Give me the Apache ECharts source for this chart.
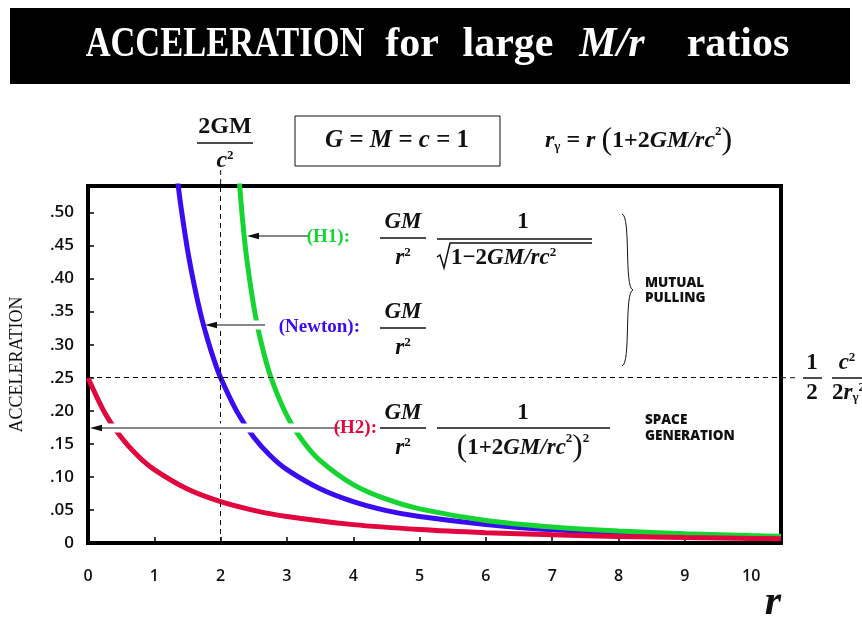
<!DOCTYPE html>
<html><head><meta charset="utf-8">
<script src="https://cdn.jsdelivr.net/npm/echarts@6/dist/echarts.min.js"></script>
<style>html,body{margin:0;padding:0;background:#fff}#c{width:862px;height:624px}</style>
</head><body><div id="c"></div>
<script>
// ---- data (G = M = c = 1) ----
const rNewton = [1.3,1.36,1.4,1.5,1.6,1.7,1.8,1.9,2,2.25,2.5,2.75,3,3.5,4,4.5,5,6,7,8,9,10,10.45];
const accNewton = [0.592,0.541,0.510,0.444,0.391,0.346,0.309,0.277,0.250,0.198,0.160,0.132,0.111,0.082,0.0625,0.049,0.040,0.028,0.020,0.0156,0.0123,0.0100,0.0092];
const rH1 = [2.25,2.3,2.35,2.4,2.5,2.6,2.75,3,3.25,3.5,4,4.5,5,6,7,8,9,10,10.45];
const accH1 = [0.593,0.524,0.469,0.425,0.358,0.308,0.253,0.1925,0.1527,0.1247,0.0884,0.0663,0.0516,0.034,0.0241,0.018,0.014,0.0112,0.0102];
const rH2 = [0,0.25,0.5,0.75,1,1.5,2,2.5,3,4,5,6,7,8,9,10,10.45];
const accH2 = [0.25,0.1975,0.16,0.132,0.111,0.0816,0.0625,0.0494,0.04,0.0278,0.0204,0.0156,0.0123,0.01,0.0083,0.0069,0.0065];
const xTicks = [0,1,2,3,4,5,6,7,8,9,10];
const yTicks = [0,0.05,0.10,0.15,0.20,0.25,0.30,0.35,0.40,0.45,0.50];
const horizonR = 2;      // 2GM/c^2
const levelAcc = 0.25;   // 1/2 c^2/(2 r_gamma^2)

const SERIF = "'Liberation Serif','DejaVu Serif',serif";
const SANS = "'Open Sans','Lato',sans-serif";
const C_BLUE = '#3a0cf2', C_GREEN = '#16d432', C_RED = '#e2063f';

const pairs = (xs, ys) => xs.map((x, i) => [x, ys[i]]);

const chart = echarts.init(document.getElementById('c'), null, {renderer: 'canvas'});

function lineSeries(name, data, color, extra) {
  return Object.assign({
    name, type: 'line', data, smooth: 0.3, showSymbol: false,
    clip: true, lineStyle: {color, width: 5}, itemStyle: {color}, z: 3
  }, extra || {});
}

chart.setOption({
  animation: false,
  grid: {left: 85, top: 186, width: 696, height: 357, show: true, borderColor: '#000', borderWidth: 4, backgroundColor: 'transparent'},
  xAxis: {
    type: 'value', min: 0, max: 10.45, interval: 1,
    axisLine: {show: false}, splitLine: {show: false},
    axisTick: {show: true, inside: true, length: 6, lineStyle: {color: '#000', width: 1.5}},
    axisLabel: {showMaxLabel: false, margin: 25, color: '#111', fontFamily: SANS, fontWeight: 600, fontSize: 16,
      formatter: v => xTicks.includes(v) ? String(v) : ''}
  },
  yAxis: {
    type: 'value', min: 0, max: 0.54, interval: 0.05,
    name: 'ACCELERATION', nameLocation: 'middle', nameGap: 62, nameRotate: 90,
    nameTextStyle: {fontFamily: SERIF, fontSize: 18, color: '#111'},
    axisLine: {show: false}, splitLine: {show: false},
    axisTick: {show: true, inside: true, length: 6, lineStyle: {color: '#000', width: 1.5}},
    axisLabel: {showMaxLabel: false, margin: 14, color: '#111', fontFamily: SANS, fontWeight: 600, fontSize: 17,
      formatter: v => {
        const t = yTicks.find(k => Math.abs(k - v) < 1e-6);
        if (t === undefined) return '';
        return t === 0 ? '0' : t.toFixed(2).replace(/^0/, '');
      }}
  },
  series: [
    lineSeries('Newton', pairs(rNewton, accNewton), C_BLUE, {
      markLine: {silent: true, symbol: 'none', label: {show: false},
        lineStyle: {color: '#000', type: [5, 4], width: 1},
        data: [{xAxis: horizonR}, {yAxis: levelAcc}]}
    }),
    lineSeries('H1', pairs(rH1, accH1), C_GREEN),
    lineSeries('H2', pairs(rH2, accH2), C_RED)
  ]
});

// ---------- annotations ----------
const g = [];
function txt(x, y, text, o) {
  o = o || {};
  g.push({type: 'text', x, y, z: o.z || 10, rotation: o.rotation || 0, scaleX: o.scaleX || 1,
    style: {text, fill: o.color || '#111', fontFamily: o.family || SERIF, fontSize: o.size || 22,
      fontWeight: o.weight || 'bold', fontStyle: o.style || 'normal',
      align: o.align || 'center', verticalAlign: o.valign || 'middle',
      textAlign: o.align || 'center', textVerticalAlign: o.valign || 'middle',
      rich: o.rich, backgroundColor: o.bg, padding: o.pad}});
}
function hline(x1, x2, y, w, color, dash) {
  g.push({type: 'line', z: 10, shape: {x1, y1: y, x2, y2: y}, style: {stroke: color || '#111', lineWidth: w || 1.5, lineDash: dash}});
}
function vline(x, y1, y2, w, dash) {
  g.push({type: 'line', z: 10, shape: {x1: x, y1, x2: x, y2}, style: {stroke: '#111', lineWidth: w || 1, lineDash: dash}});
}
function arrow(xFrom, xTo, y) {
  g.push({type: 'line', z: 8, shape: {x1: xFrom, y1: y, x2: xTo + 2, y2: y}, style: {stroke: '#fff', lineWidth: 9}});
  g.push({type: 'line', z: 9, shape: {x1: xFrom, y1: y, x2: xTo + 8, y2: y}, style: {stroke: '#111', lineWidth: 1.2}});
  g.push({type: 'polygon', z: 9, shape: {points: [[xTo, y], [xTo + 12, y - 3.2], [xTo + 12, y + 3.2]]}, style: {fill: '#111'}});
}
function curve(x1, y1, cpx1, cpy1, cpx2, cpy2, x2, y2) {
  g.push({type: 'bezierCurve', z: 10, shape: {x1, y1, x2, y2, cpx1, cpy1, cpx2, cpy2}, style: {stroke: '#111', lineWidth: 1, fill: null}});
}
const rich = (size) => ({
  i: {fontFamily: SERIF, fontSize: size, fontWeight: 'bold', fontStyle: 'italic', fill: '#111'},
  n: {fontFamily: SERIF, fontSize: size, fontWeight: 'bold', fill: '#111'},
  sup: {fontFamily: SERIF, fontSize: Math.round(size * 0.55), fontWeight: 'bold', fill: '#111', verticalAlign: 'top', padding: [0, 0, Math.round(size * 0.45), 0]},
  sub: {fontFamily: SERIF, fontSize: Math.round(size * 0.55), fontWeight: 'bold', fill: '#111', padding: [Math.round(size * 0.45), 0, 0, 0]},
  p: {fontFamily: SERIF, fontSize: Math.round(size * 1.35), fontWeight: 'normal', fill: '#111'}
});

// title bar
g.push({type: 'rect', z: 1, shape: {x: 10, y: 8, width: 840, height: 76}, style: {fill: '#000'}});
const tOpt = {color: '#fff', size: 42, weight: 'bold'};
txt(225, 45, 'ACCELERATION', Object.assign({}, tOpt, {scaleX: 0.82}));
txt(412, 45, 'for', tOpt);
txt(508, 45, 'large', tOpt);
txt(612, 45, 'M/r', Object.assign({}, tOpt, {style: 'italic'}));
txt(738, 45, 'ratios', tOpt);

// 2GM/c^2 above the dashed vertical
txt(225, 127, '2GM', {size: 24});
hline(197, 253, 143, 1.5);
txt(225, 161, '{i|c}{sup|2}', {rich: rich(24)});

// G = M = c = 1 box
g.push({type: 'rect', z: 10, shape: {x: 295, y: 116, width: 205, height: 50}, style: {fill: 'none', stroke: '#111', lineWidth: 1}});
txt(397, 141, '{i|G = M = c = }{n|1}', {rich: rich(25)});

// r_gamma formula
txt(545, 141, '{i|r}{sub|γ}{n| = }{i|r }{p|(}{n|1+2}{i|GM/rc}{sup|2}{p|)}', {rich: rich(24), align: 'left'});

// H1
arrow(310, 247, 236);
txt(350, 237, '(H1):', {color: C_GREEN, size: 19, align: 'right'});
txt(403, 222, 'GM', {size: 23, style: 'italic'});
hline(380, 426, 238, 1.5);
txt(403, 258, '{i|r}{sup|2}', {rich: rich(23)});
txt(523, 222, '1', {size: 23});
hline(437, 592, 239, 1.5);
txt(451, 258, '{n|1−2}{i|GM/rc}{sup|2}', {rich: rich(23), align: 'left'});
g.push({type: 'polyline', z: 10, shape: {points: [[437, 257], [440, 255], [444, 268], [450, 243], [592, 243]]}, style: {stroke: '#111', lineWidth: 1.5, fill: null}});

// Newton
arrow(265, 205, 325);
txt(362, 327, '(Newton):', {color: C_BLUE, size: 19, align: 'right', bg: '#fff', pad: [2, 2]});
txt(403, 312, 'GM', {size: 23, style: 'italic'});
hline(380, 426, 328, 1.5);
txt(403, 348, '{i|r}{sup|2}', {rich: rich(23)});

// H2
arrow(340, 90, 428);
txt(377, 428, '(H2):', {color: C_RED, size: 19, align: 'right'});
txt(403, 413, 'GM', {size: 23, style: 'italic'});
hline(380, 426, 428, 1.5);
txt(403, 448, '{i|r}{sup|2}', {rich: rich(23)});
txt(523, 413, '1', {size: 23});
hline(437, 610, 428, 1.5);
txt(523, 448, '{p|(}{n|1+2}{i|GM/rc}{sup|2}{p|)}{sup|2}', {rich: rich(23)});

// brace + side labels
curve(622, 214, 631, 216, 624, 288, 633, 290);
curve(633, 290, 624, 292, 631, 364, 622, 366);
txt(645, 283, 'MUTUAL', {family: SANS, size: 13.5, weight: 800, align: 'left'});
txt(645, 298, 'PULLING', {family: SANS, size: 13.5, weight: 800, align: 'left'});
txt(645, 420, 'SPACE', {family: SANS, size: 13.5, weight: 800, align: 'left'});
txt(645, 436, 'GENERATION', {family: SANS, size: 13.5, weight: 800, align: 'left'});

// right side 1/2 c^2/(2 r_gamma^2)
txt(812, 363, '1', {size: 23});
hline(803, 822, 378, 1.5);
txt(812, 393, '2', {size: 23});
txt(847, 363, '{i|c}{sup|2}', {rich: rich(23)});
hline(832, 866, 378, 1.5);
txt(832, 393, '{n|2}{i|r}{sub|γ}{sup|2}', {rich: rich(23), align: 'left'});

// axis variable
txt(773, 603, 'r', {size: 42, style: 'italic'});

// extensions of the dashed reference lines beyond the plot frame
const pV = chart.convertToPixel({gridIndex: 0}, [horizonR, 0.54]);
vline(pV[0], 170, pV[1], 1, [5, 4]);
const pH = chart.convertToPixel({gridIndex: 0}, [10.45, levelAcc]);
hline(pH[0], 796, pH[1], 1, '#111', [5, 4]);

chart.setOption({graphic: g});
</script></body></html>
